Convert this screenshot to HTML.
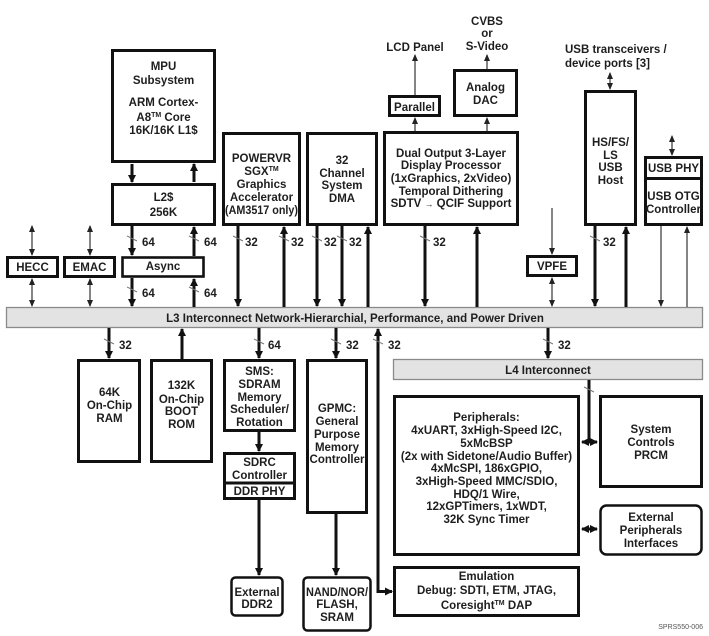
<!DOCTYPE html>
<html><head><meta charset="utf-8"><style>
html,body{margin:0;padding:0;background:#fff;}
svg{display:block;}
text{font-family:"Liberation Sans",Arial,sans-serif;font-weight:bold;font-size:11.5px;fill:#1e1e1e;}
.c{text-anchor:middle;}
.lb{font-size:11.5px;}
</style></head><body>
<svg width="709" height="636" viewBox="0 0 709 636" xmlns="http://www.w3.org/2000/svg">
<defs>
<marker id="ta" markerWidth="9" markerHeight="9" refX="7" refY="4.5" orient="auto" markerUnits="userSpaceOnUse"><path d="M0,0.5 L8,4.5 L0,8.5 z" fill="#111"/></marker>
<marker id="tas" markerWidth="9" markerHeight="9" refX="7" refY="4.5" orient="auto-start-reverse" markerUnits="userSpaceOnUse"><path d="M0,0.5 L8,4.5 L0,8.5 z" fill="#111"/></marker>
<marker id="na" markerWidth="7" markerHeight="7" refX="6" refY="3.5" orient="auto" markerUnits="userSpaceOnUse"><path d="M0,0.5 L7,3.5 L0,6.5 z" fill="#222"/></marker>
<marker id="nas" markerWidth="7" markerHeight="7" refX="6" refY="3.5" orient="auto-start-reverse" markerUnits="userSpaceOnUse"><path d="M0,0.5 L7,3.5 L0,6.5 z" fill="#222"/></marker>
</defs>

<!-- Bars -->
<rect x="6.5" y="307.5" width="696" height="20" fill="#e3e3e3" stroke="#8a8a8a" stroke-width="1.3"/>
<text class="c" x="355" y="322">L3 Interconnect Network-Hierarchial, Performance, and Power Driven</text>
<rect x="393.5" y="359.5" width="309" height="20" fill="#e3e3e3" stroke="#8a8a8a" stroke-width="1.3"/>
<text class="c" x="548" y="374">L4 Interconnect</text>

<!-- Thick arrows -->
<g stroke="#111" stroke-width="3" fill="none">
<line x1="132" y1="164" x2="132" y2="182" marker-end="url(#ta)"/>
<line x1="194" y1="182" x2="194" y2="164" marker-end="url(#ta)"/>
<line x1="132" y1="226" x2="132" y2="255" marker-end="url(#ta)"/>
<line x1="194" y1="256" x2="194" y2="227" marker-end="url(#ta)"/>
<line x1="132" y1="278" x2="132" y2="306" marker-end="url(#ta)"/>
<line x1="194" y1="307" x2="194" y2="279" marker-end="url(#ta)"/>
<line x1="238" y1="226" x2="238" y2="306" marker-end="url(#ta)"/>
<line x1="284" y1="307" x2="284" y2="227" marker-end="url(#ta)"/>
<line x1="317" y1="226" x2="317" y2="306" marker-end="url(#ta)"/>
<line x1="342" y1="226" x2="342" y2="306" marker-end="url(#ta)"/>
<line x1="368" y1="307" x2="368" y2="227" marker-end="url(#ta)"/>
<line x1="425" y1="226" x2="425" y2="306" marker-end="url(#ta)"/>
<line x1="477" y1="307" x2="477" y2="227" marker-end="url(#ta)"/>
<line x1="595" y1="226" x2="595" y2="306" marker-end="url(#ta)"/>
<line x1="626" y1="307" x2="626" y2="227" marker-end="url(#ta)"/>
<line x1="109" y1="328" x2="109" y2="358" marker-end="url(#ta)"/>
<line x1="182" y1="359" x2="182" y2="329" marker-end="url(#ta)"/>
<line x1="259" y1="328" x2="259" y2="358" marker-end="url(#ta)"/>
<line x1="259" y1="432" x2="259" y2="451" marker-end="url(#ta)"/>
<line x1="259" y1="500" x2="259" y2="575" marker-end="url(#ta)"/>
<line x1="336" y1="328" x2="336" y2="358" marker-end="url(#ta)"/>
<line x1="336" y1="514" x2="336" y2="575" marker-end="url(#ta)"/>
<line x1="548" y1="328" x2="548" y2="358" marker-end="url(#ta)"/>
<line x1="378" y1="592" x2="378" y2="329" marker-end="url(#ta)"/>
<line x1="376.5" y1="591.5" x2="392" y2="591.5" marker-end="url(#ta)"/>
<line x1="589" y1="380" x2="589" y2="442"/>
<line x1="582" y1="442" x2="597" y2="442" marker-start="url(#tas)" marker-end="url(#ta)"/>
<line x1="582" y1="529" x2="597" y2="529" marker-start="url(#tas)" marker-end="url(#ta)"/>
</g>

<!-- Thin arrows -->
<g stroke="#333" stroke-width="1.2" fill="none">
<line x1="32" y1="226" x2="32" y2="255" marker-start="url(#nas)" marker-end="url(#na)"/>
<line x1="32" y1="279" x2="32" y2="306" marker-start="url(#nas)" marker-end="url(#na)"/>
<line x1="90" y1="226" x2="90" y2="255" marker-start="url(#nas)" marker-end="url(#na)"/>
<line x1="90" y1="279" x2="90" y2="306" marker-start="url(#nas)" marker-end="url(#na)"/>
<line x1="415" y1="95" x2="415" y2="55" marker-end="url(#na)"/>
<line x1="415" y1="131" x2="415" y2="118" marker-end="url(#na)"/>
<line x1="487" y1="69" x2="487" y2="55" marker-end="url(#na)"/>
<line x1="487" y1="131" x2="487" y2="118" marker-end="url(#na)"/>
<line x1="610" y1="73" x2="610" y2="89" marker-start="url(#nas)" marker-end="url(#na)"/>
<line x1="672" y1="136" x2="672" y2="155" marker-start="url(#nas)" marker-end="url(#na)"/>
<line x1="552" y1="208" x2="552" y2="254" marker-end="url(#na)"/>
<line x1="552" y1="278" x2="552" y2="306" marker-start="url(#nas)" marker-end="url(#na)"/>
<line x1="661" y1="226" x2="661" y2="306" marker-end="url(#na)"/>
<line x1="687" y1="307" x2="687" y2="227" marker-end="url(#na)"/>
</g>

<!-- Ticks -->
<g stroke="#777" stroke-width="1">
<line x1="127" y1="236" x2="137" y2="241"/>
<line x1="189" y1="236" x2="199" y2="241"/>
<line x1="127" y1="287" x2="137" y2="292"/>
<line x1="189" y1="287" x2="199" y2="292"/>
<line x1="233" y1="236" x2="243" y2="241"/>
<line x1="279" y1="236" x2="289" y2="241"/>
<line x1="312" y1="236" x2="322" y2="241"/>
<line x1="337" y1="236" x2="347" y2="241"/>
<line x1="420" y1="236" x2="430" y2="241"/>
<line x1="590" y1="236" x2="600" y2="241"/>
<line x1="104" y1="339" x2="114" y2="344"/>
<line x1="254" y1="339" x2="264" y2="344"/>
<line x1="331" y1="339" x2="341" y2="344"/>
<line x1="373" y1="339" x2="383" y2="344"/>
<line x1="543" y1="339" x2="553" y2="344"/>
<line x1="584" y1="387" x2="594" y2="392"/>
</g>

<!-- Bus width labels -->
<g class="lb">
<text x="142" y="246">64</text>
<text x="204" y="246">64</text>
<text x="142" y="297">64</text>
<text x="204" y="297">64</text>
<text x="245" y="246">32</text>
<text x="291" y="246">32</text>
<text x="324" y="246">32</text>
<text x="349" y="246">32</text>
<text x="433" y="246">32</text>
<text x="603" y="246">32</text>
<text x="119" y="349">32</text>
<text x="268" y="349">64</text>
<text x="346" y="349">32</text>
<text x="388" y="349">32</text>
<text x="558" y="349">32</text>
</g>

<!-- Boxes -->
<g fill="#fff" stroke="#111" stroke-width="3">
<rect x="112.5" y="50.5" width="102" height="111"/>
<rect x="112.5" y="184.5" width="102" height="40"/>
<rect x="223.5" y="133.5" width="76" height="91"/>
<rect x="307.5" y="133.5" width="69" height="91"/>
<rect x="384.5" y="132.5" width="133" height="92"/>
<rect x="389.5" y="96.5" width="50" height="19"/>
<rect x="454.5" y="70.5" width="62" height="45"/>
<rect x="585.5" y="91.5" width="50" height="133"/>
<rect x="645.5" y="157.5" width="56" height="67"/>
<rect x="7.5" y="257.5" width="50" height="19"/>
<rect x="64.5" y="257.5" width="50" height="19"/>
<rect x="122.5" y="257.5" width="81" height="19" stroke-width="2.6"/>
<rect x="527.5" y="256.5" width="49" height="19"/>
<rect x="78.5" y="360.5" width="61" height="101"/>
<rect x="151.5" y="360.5" width="60" height="101"/>
<rect x="224.5" y="360.5" width="70" height="70"/>
<rect x="224.5" y="453.5" width="70" height="45"/>
<rect x="307.5" y="360.5" width="59" height="152"/>
<rect x="231.5" y="577.5" width="51" height="38" rx="4" stroke-width="2.5"/>
<rect x="303.5" y="577.5" width="67" height="53" rx="4" stroke-width="2.5"/>
<rect x="394.5" y="396.5" width="184" height="158"/>
<rect x="600.5" y="396.5" width="101" height="90"/>
<rect x="600.5" y="505.5" width="101" height="49" rx="6" stroke-width="2.5"/>
<rect x="394.5" y="567.5" width="184" height="48"/>
<line x1="644" y1="178.5" x2="703" y2="178.5"/>
<line x1="223" y1="483" x2="296" y2="483"/>
</g>

<!-- Box text -->
<g class="c">
<text x="163.5" y="70">MPU</text>
<text x="163.5" y="84">Subsystem</text>
<text x="163.5" y="106">ARM Cortex-</text>
<text x="163.5" y="121">A8<tspan font-size="7" dy="-4">TM</tspan><tspan dy="4"> Core</tspan></text>
<text x="163.5" y="134">16K/16K L1$</text>
<text x="163.5" y="201">L2$</text>
<text x="163.5" y="216">256K</text>

<text x="261.5" y="162">POWERVR</text>
<text x="261.5" y="175">SGX<tspan font-size="7" dy="-4">TM</tspan></text>
<text x="261.5" y="188">Graphics</text>
<text x="261.5" y="201">Accelerator</text>
<text x="261.5" y="214" textLength="73" lengthAdjust="spacingAndGlyphs">(AM3517 only)</text>

<text x="342" y="164">32</text>
<text x="342" y="177">Channel</text>
<text x="342" y="189">System</text>
<text x="342" y="202">DMA</text>

<text x="451" y="157">Dual Output 3-Layer</text>
<text x="451" y="169">Display Processor</text>
<text x="451" y="182">(1xGraphics, 2xVideo)</text>
<text x="451" y="195">Temporal Dithering</text>
<text x="451" y="207">SDTV <tspan font-size="9" font-weight="normal">→</tspan> QCIF Support</text>

<text x="414.5" y="111">Parallel</text>
<text x="485.5" y="91">Analog</text>
<text x="485.5" y="104">DAC</text>
<text x="415" y="51">LCD Panel</text>
<text x="487" y="25">CVBS</text>
<text x="487" y="37">or</text>
<text x="487" y="50">S-Video</text>

<text x="610.5" y="146">HS/FS/</text>
<text x="610.5" y="159">LS</text>
<text x="610.5" y="171">USB</text>
<text x="610.5" y="184">Host</text>
<text x="673.5" y="172">USB PHY</text>
<text x="673.5" y="200">USB OTG</text>
<text x="673.5" y="213" textLength="55" lengthAdjust="spacingAndGlyphs">Controller</text>

<text x="32.5" y="271">HECC</text>
<text x="89.5" y="271">EMAC</text>
<text x="163" y="270">Async</text>
<text x="552" y="270">VPFE</text>

<text x="109.5" y="396">64K</text>
<text x="109.5" y="409">On-Chip</text>
<text x="109.5" y="422">RAM</text>
<text x="181.5" y="389">132K</text>
<text x="181.5" y="403">On-Chip</text>
<text x="181.5" y="415">BOOT</text>
<text x="181.5" y="428">ROM</text>

<text x="259.5" y="375">SMS:</text>
<text x="259.5" y="388">SDRAM</text>
<text x="259.5" y="401">Memory</text>
<text x="259.5" y="413">Scheduler/</text>
<text x="259.5" y="426">Rotation</text>
<text x="259.5" y="466">SDRC</text>
<text x="259.5" y="479">Controller</text>
<text x="259.5" y="495">DDR PHY</text>

<text x="337" y="412">GPMC:</text>
<text x="337" y="425">General</text>
<text x="337" y="438">Purpose</text>
<text x="337" y="451">Memory</text>
<text x="337" y="463">Controller</text>

<text x="257" y="596" textLength="45" lengthAdjust="spacingAndGlyphs">External</text>
<text x="257" y="608">DDR2</text>
<text x="337" y="596" textLength="62" lengthAdjust="spacingAndGlyphs">NAND/NOR/</text>
<text x="337" y="608">FLASH,</text>
<text x="337" y="621">SRAM</text>

<text x="486.5" y="421">Peripherals:</text>
<text x="486.5" y="434">4xUART, 3xHigh-Speed I2C,</text>
<text x="486.5" y="447">5xMcBSP</text>
<text x="486.5" y="460">(2x with Sidetone/Audio Buffer)</text>
<text x="486.5" y="472">4xMcSPI, 186xGPIO,</text>
<text x="486.5" y="485">3xHigh-Speed MMC/SDIO,</text>
<text x="486.5" y="498">HDQ/1 Wire,</text>
<text x="486.5" y="510">12xGPTimers, 1xWDT,</text>
<text x="486.5" y="523">32K Sync Timer</text>

<text x="651" y="433">System</text>
<text x="651" y="446">Controls</text>
<text x="651" y="459">PRCM</text>
<text x="651" y="521">External</text>
<text x="651" y="534">Peripherals</text>
<text x="651" y="547">Interfaces</text>

<text x="486.5" y="580">Emulation</text>
<text x="486.5" y="594">Debug: SDTI, ETM, JTAG,</text>
<text x="486.5" y="609">Coresight<tspan font-size="7" dy="-4">TM</tspan><tspan dy="4"> DAP</tspan></text>
</g>

<text x="565" y="53">USB transceivers /</text>
<text x="565" y="67">device ports [3]</text>

<text x="703" y="629" text-anchor="end" style="font-size:7px;font-weight:normal;fill:#555;">SPRS550-006</text>
</svg>
</body></html>
